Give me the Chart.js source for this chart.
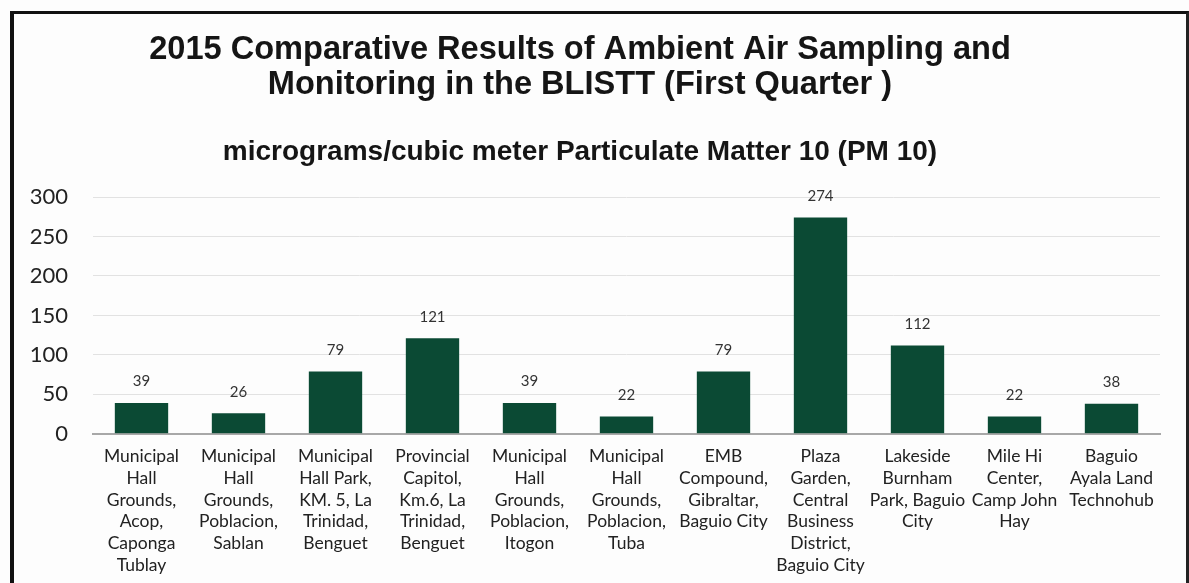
<!DOCTYPE html>
<html>
<head>
<meta charset="utf-8">
<script src="https://cdn.jsdelivr.net/npm/chart.js@4/dist/chart.umd.min.js"></script>
<style>
  html, body { margin: 0; padding: 0; background: #fdfdfd; }
  #frame {
    position: absolute; left: 10px; top: 11px; width: 1172px; height: 580px;
    border-top: 3px solid #111; border-left: 4px solid #111; border-right: 3px solid #222;
  }
  #wrap { position: absolute; left: 0; top: 0; width: 1189px; height: 583px; }
</style>
</head>
<body>
<div id="frame"></div>
<div id="wrap"><canvas id="pm10"></canvas></div>
<script>
const stations = [
  ['Municipal', 'Hall', 'Grounds,', 'Acop,', 'Caponga', 'Tublay'],
  ['Municipal', 'Hall', 'Grounds,', 'Poblacion,', 'Sablan'],
  ['Municipal', 'Hall Park,', 'KM. 5, La', 'Trinidad,', 'Benguet'],
  ['Provincial', 'Capitol,', 'Km.6, La', 'Trinidad,', 'Benguet'],
  ['Municipal', 'Hall', 'Grounds,', 'Poblacion,', 'Itogon'],
  ['Municipal', 'Hall', 'Grounds,', 'Poblacion,', 'Tuba'],
  ['EMB', 'Compound,', 'Gibraltar,', 'Baguio City'],
  ['Plaza', 'Garden,', 'Central', 'Business', 'District,', 'Baguio City'],
  ['Lakeside', 'Burnham', 'Park, Baguio', 'City'],
  ['Mile Hi', 'Center,', 'Camp John', 'Hay'],
  ['Baguio', 'Ayala Land', 'Technohub']
];
const pm10 = [39, 26, 79, 121, 39, 22, 79, 274, 112, 22, 38];
const yTicks = [0, 50, 100, 150, 200, 250, 300];

const barLabels = {
  id: 'barLabels',
  afterDatasetsDraw(chart) {
    const ctx = chart.ctx;
    const meta = chart.getDatasetMeta(0);
    ctx.save();
    ctx.font = '15px Lato';
    ctx.fillStyle = '#333';
    ctx.textAlign = 'center';
    ctx.textBaseline = 'bottom';
    meta.data.forEach((bar, i) => {
      ctx.fillText(String(pm10[i]), bar.x, bar.y - 14);
    });
    ctx.restore();
  }
};

const ctx = document.getElementById('pm10').getContext('2d');

const config = {
  type: 'bar',
  data: {
    labels: stations,
    datasets: [{
      label: 'PM 10',
      data: pm10,
      backgroundColor: '#0b4a34',
      categoryPercentage: 1,
      barPercentage: 0.55
    }]
  },
  options: {
    responsive: true,
    maintainAspectRatio: false,
    animation: false,
    layout: { padding: { left: 0, right: 29, top: 18, bottom: 3 } },
    plugins: {
      legend: { display: false },
      tooltip: { enabled: false },
      title: {
        display: true,
        text: ['2015 Comparative Results of Ambient Air Sampling and', 'Monitoring in the BLISTT (First Quarter )'],
        color: '#151515',
        font: { family: 'Liberation Sans', size: 32.6, weight: 'bold', lineHeight: 1.08 },
        padding: { top: 14, bottom: 33 }
      },
      subtitle: {
        display: true,
        text: 'micrograms/cubic meter Particulate Matter 10 (PM 10)',
        color: '#151515',
        font: { family: 'Liberation Sans', size: 28, weight: 'bold', lineHeight: 1.2 },
        padding: { top: 0, bottom: 28 }
      }
    },
    scales: {
      x: {
        grid: { display: false },
        border: { display: true, color: '#a8a8a8', width: 2 },
        ticks: {
          color: '#222',
          font: { family: 'Lato', size: 17.5, lineHeight: 1.24 },
          maxRotation: 0,
          autoSkip: false,
          padding: 4
        }
      },
      y: {
        min: 0,
        max: 300,
        afterBuildTicks(scale) { scale.ticks = yTicks.map(v => ({ value: v })); },
        afterFit(scale) { scale.width = 93; },
        grid: { color: '#e2e2e2', lineWidth: 1, drawTicks: false },
        border: { display: false },
        ticks: {
          color: '#222',
          font: { family: 'Lato', size: 22 },
          padding: 25
        }
      }
    }
  },
  plugins: [barLabels]
};

var pm10Chart = new Chart(ctx, config);
</script>
</body>
</html>
